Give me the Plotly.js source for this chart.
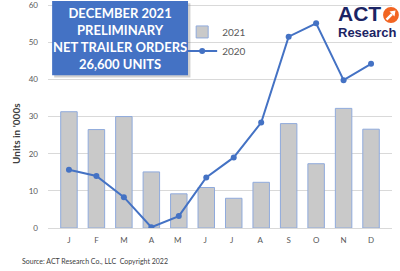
<!DOCTYPE html>
<html>
<head>
<meta charset="utf-8">
<script src="https://cdn.plot.ly/plotly-3.0.1.min.js"></script>
<style>html,body{margin:0;padding:0;background:#fff;}#chart{width:400px;height:271px;}</style>
</head>
<body>
<div id="chart"></div>
<script>
var months = ["J","F","M","A","M ","J ","J  ","A ","S","O","N","D"];
var orders2021 = [31.3, 26.5, 30.0, 15.1, 9.2, 10.9, 8.0, 12.3, 28.1, 17.3, 32.2, 26.6];
var orders2020 = [15.7, 14.0, 8.3, 0.2, 3.2, 13.6, 19.0, 28.4, 51.5, 55.1, 39.8, 44.2];
var yTicks = [0, 10, 20, 30, 40, 50, 60];
var boxLines = ["DECEMBER 2021", "PRELIMINARY", "NET TRAILER ORDERS", "26,600 UNITS"];

var traces = [
  {type:'bar', name:'2021', x:months, y:orders2021,
   marker:{color:'#C9C9C9', line:{color:'#8FAADC', width:1}}},
  {type:'scatter', mode:'lines+markers', name:'2020', x:months, y:orders2020,
   line:{color:'#4472C4', width:2}, marker:{color:'#4472C4', size:6}}
];

var layout = {
  width:400, height:271,
  margin:{l:48, r:8, t:4, b:43},
  paper_bgcolor:'#fff', plot_bgcolor:'#fff',
  bargap:0.4,
  font:{family:'Lato, "Open Sans", sans-serif', color:'#595959'},
  xaxis:{type:'category', showgrid:false, zeroline:false, showline:false,
         ticks:'', tickfont:{size:8, color:'#595959'}, ticklabelstandoff:6, fixedrange:true},
  yaxis:{range:[0,60.3], tickvals:yTicks, ticktext:yTicks.map(String), ticklabeloverflow:'allow',
         showgrid:true, gridcolor:'#D9D9D9', gridwidth:1, zeroline:true, zerolinecolor:'#D9D9D9',
         tickfont:{size:8, color:'#595959'}, ticklabelstandoff:9},
  showlegend:true,
  legend:{x:0.39, y:0.94, xanchor:'left', yanchor:'top', bgcolor:'rgba(255,255,255,0)',
          font:{size:10, color:'#595959'}, traceorder:'normal', itemwidth:30, tracegroupgap:0},
  shapes:[
    {type:'rect', xref:'paper', yref:'paper', x0:0.018, x1:0.414, y0:0.672, y1:1.003,
     fillcolor:'rgba(120,120,120,0.35)', line:{width:0}, layer:'above'},
    {type:'rect', xref:'paper', yref:'paper', x0:0.012, x1:0.407, y0:0.682, y1:1.013,
     fillcolor:'#4472C4', line:{width:0}, layer:'above'},
    {type:'circle', xref:'paper', yref:'paper', x0:0.974, x1:1.020, y0:0.915, y1:0.987,
     fillcolor:'#F26522', line:{width:0}, layer:'above'},
    {type:'line', xref:'paper', yref:'paper', x0:0.98401, y0:0.93049, x1:1.0, y1:0.95516,
     line:{color:'#fff', width:2.5}, layer:'above'},
    {type:'path', xref:'paper', yref:'paper', path:'M 1.01017 0.97085 L 0.99273 0.96637 L 1.00727 0.94395 Z',
     fillcolor:'#fff', line:{width:0}, layer:'above'}
  ],
  annotations:[
    {xref:'paper', yref:'paper', x:0.21, y:0.848, xanchor:'center', yanchor:'middle', showarrow:false,
     text:'<b>'+boxLines.join('<br>')+'</b>', font:{size:13, color:'#fff', family:'Lato, sans-serif'}, align:'center'},
    {xref:'paper', yref:'paper', x:-0.093, y:0.42, xanchor:'center', yanchor:'middle', showarrow:false, textangle:-90,
     text:"<b>Units in '000s</b>", font:{size:10, color:'#404040', family:'Lato, sans-serif'}},
    {xref:'paper', yref:'paper', x:0.84, y:1.015, xanchor:'left', yanchor:'top', showarrow:false, align:'left', borderpad:0,
     text:'<b><span style="font-size:21px">ACT</span><br><span style="font-size:13px">Research</span></b>',
     font:{size:12, color:'#1B2464', family:'Liberation Sans, Arial, sans-serif'}},
    {xref:'paper', yref:'paper', x:-0.08, y:-0.15, xanchor:'left', yanchor:'middle', showarrow:false,
     text:'Source: ACT Research Co., LLC  Copyright 2022', font:{size:7, color:'#404040', family:'Lato, sans-serif'}}
  ]
};

Plotly.newPlot('chart', traces, layout, {displayModeBar:false, staticPlot:true});
</script>
</body>
</html>
